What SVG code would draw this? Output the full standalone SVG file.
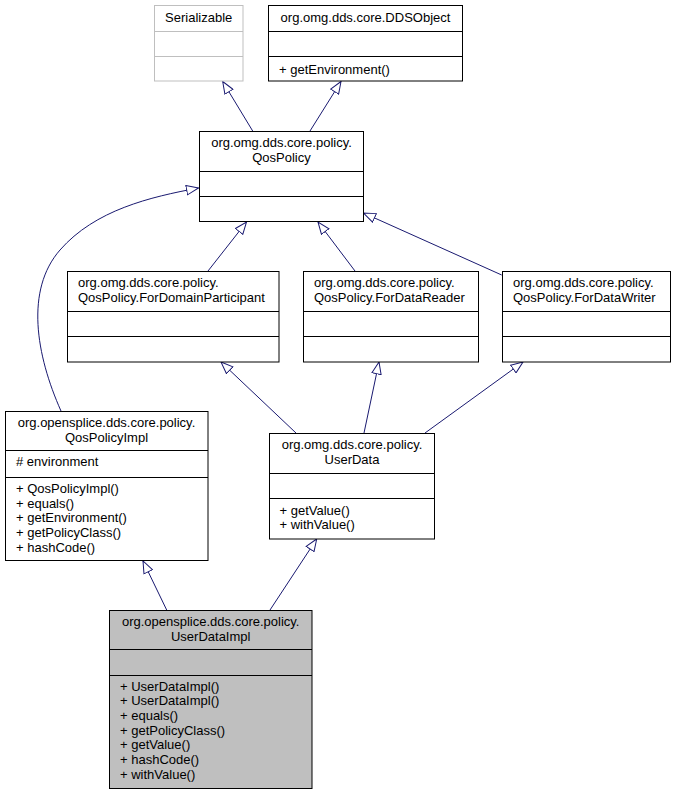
<svg xmlns="http://www.w3.org/2000/svg" width="676" height="795" viewBox="0 0 676 795">
<style>
.box{fill:#ffffff;stroke:#000000;stroke-width:1}
.ext{fill:#ffffff;stroke:#bfbfbf;stroke-width:1}
.cur{fill:#bfbfbf;stroke:#000000;stroke-width:1}
.div{stroke:#000000;stroke-width:1}
.divx{stroke:#bfbfbf;stroke-width:1}
text{font-family:"Liberation Sans",Arial,Helvetica,sans-serif;font-size:13px;fill:#000000}
.c{text-anchor:middle}
.e{fill:none;stroke:#191970;stroke-width:1;marker-end:url(#tri)}
</style>
<defs>
<marker id="tri" viewBox="0 0 13 11" refX="12.5" refY="5.5" markerWidth="13" markerHeight="11" markerUnits="userSpaceOnUse" orient="auto">
<path d="M0.5,0.8 L12.5,5.5 L0.5,10.2 Z" fill="#ffffff" stroke="#191970" stroke-width="1"/>
</marker>
</defs>
<rect width="676" height="795" fill="#ffffff"/>
<g id="connectors">
<path class="e" d="M252.7,131 L222.7,81.5"/>
<path class="e" d="M310,131 L341,81.5"/>
<path class="e" d="M208,271 L246.5,222"/>
<path class="e" d="M355,271 L318,222"/>
<path class="e" d="M501.7,275 L363.5,213"/>
<path class="e" d="M61,411 C36,355 25,290 60,250 C95,210 150,197 198.5,188"/>
<path class="e" d="M296,433 L221,362"/>
<path class="e" d="M364,433 L379,362"/>
<path class="e" d="M425,433 L523,362"/>
<path class="e" d="M166.7,610 L143,561"/>
<path class="e" d="M270,610 L316.7,539"/>
</g>
<g id="Serializable">
<rect class="ext" x="154.5" y="5.5" width="88.5" height="75.5"/>
<line class="divx" x1="154.5" y1="31.5" x2="243" y2="31.5"/>
<line class="divx" x1="154.5" y1="56.5" x2="243" y2="56.5"/>
<text class="c" x="198.7" y="21.5">Serializable</text>
</g>
<g id="DDSObject">
<rect class="box" x="268.5" y="5.5" width="194" height="75.5"/>
<line class="div" x1="268.5" y1="31.5" x2="462.5" y2="31.5"/>
<line class="div" x1="268.5" y1="56.5" x2="462.5" y2="56.5"/>
<text class="c" x="365.5" y="21.5">org.omg.dds.core.DDSObject</text>
<text x="279" y="73.5">+ getEnvironment()</text>
</g>
<g id="QosPolicy">
<rect class="box" x="199.5" y="131.5" width="164" height="90"/>
<line class="div" x1="199.5" y1="171.5" x2="363.5" y2="171.5"/>
<line class="div" x1="199.5" y1="196.5" x2="363.5" y2="196.5"/>
<text class="c" x="281.5" y="147">org.omg.dds.core.policy.</text>
<text class="c" x="281.5" y="162">QosPolicy</text>
</g>
<g id="ForDomainParticipant">
<rect class="box" x="67.5" y="271.5" width="211.5" height="90.5"/>
<line class="div" x1="67.5" y1="311.5" x2="279" y2="311.5"/>
<line class="div" x1="67.5" y1="336.5" x2="279" y2="336.5"/>
<text x="78" y="287">org.omg.dds.core.policy.</text>
<text x="78" y="302">QosPolicy.ForDomainParticipant</text>
</g>
<g id="ForDataReader">
<rect class="box" x="303.5" y="271.5" width="175" height="90.5"/>
<line class="div" x1="303.5" y1="311.5" x2="478.5" y2="311.5"/>
<line class="div" x1="303.5" y1="336.5" x2="478.5" y2="336.5"/>
<text x="314" y="287">org.omg.dds.core.policy.</text>
<text x="314" y="302">QosPolicy.ForDataReader</text>
</g>
<g id="ForDataWriter">
<rect class="box" x="502.5" y="271.5" width="168" height="90.5"/>
<line class="div" x1="502.5" y1="311.5" x2="670.5" y2="311.5"/>
<line class="div" x1="502.5" y1="336.5" x2="670.5" y2="336.5"/>
<text x="513" y="287">org.omg.dds.core.policy.</text>
<text x="513" y="302">QosPolicy.ForDataWriter</text>
</g>
<g id="QosPolicyImpl">
<rect class="box" x="5.5" y="411.5" width="202.5" height="149"/>
<line class="div" x1="5.5" y1="450.5" x2="208" y2="450.5"/>
<line class="div" x1="5.5" y1="477.5" x2="208" y2="477.5"/>
<text class="c" x="106.5" y="427">org.opensplice.dds.core.policy.</text>
<text class="c" x="106.5" y="442">QosPolicyImpl</text>
<text x="16" y="466"># environment</text>
<text x="16" y="493">+ QosPolicyImpl()</text>
<text x="16" y="507.7">+ equals()</text>
<text x="16" y="522.4">+ getEnvironment()</text>
<text x="16" y="537.1">+ getPolicyClass()</text>
<text x="16" y="551.8">+ hashCode()</text>
</g>
<g id="UserData">
<rect class="box" x="269.5" y="433.5" width="165" height="105.5"/>
<line class="div" x1="269.5" y1="473.5" x2="434.5" y2="473.5"/>
<line class="div" x1="269.5" y1="498.5" x2="434.5" y2="498.5"/>
<text class="c" x="352" y="449">org.omg.dds.core.policy.</text>
<text class="c" x="352" y="464">UserData</text>
<text x="279.5" y="514.5">+ getValue()</text>
<text x="279.5" y="529">+ withValue()</text>
</g>
<g id="UserDataImpl">
<rect class="cur" x="109.5" y="610.5" width="202.5" height="178"/>
<line class="div" x1="109.5" y1="649.5" x2="312" y2="649.5"/>
<line class="div" x1="109.5" y1="675.5" x2="312" y2="675.5"/>
<text class="c" x="210.7" y="625.5">org.opensplice.dds.core.policy.</text>
<text class="c" x="210.7" y="640.5">UserDataImpl</text>
<text x="120" y="690.5">+ UserDataImpl()</text>
<text x="120" y="705.2">+ UserDataImpl()</text>
<text x="120" y="719.9">+ equals()</text>
<text x="120" y="734.6">+ getPolicyClass()</text>
<text x="120" y="749.3">+ getValue()</text>
<text x="120" y="764">+ hashCode()</text>
<text x="120" y="778.7">+ withValue()</text>
</g>
</svg>
